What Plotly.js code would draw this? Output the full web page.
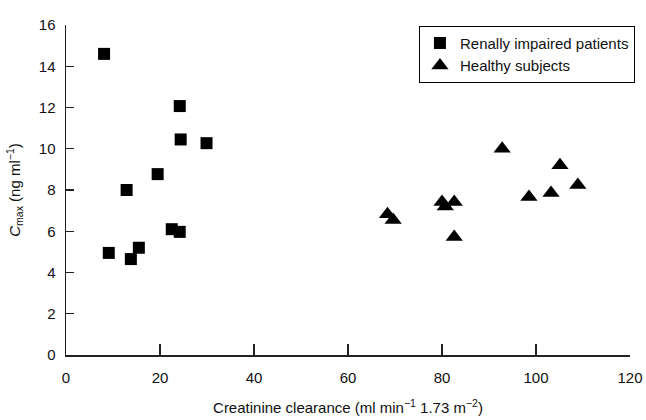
<!DOCTYPE html>
<html><head><meta charset="utf-8">
<script src="https://cdn.plot.ly/plotly-3.0.1.min.js"></script>
<style>body{margin:0;background:#fff}#c{width:646px;height:420px}</style>
</head><body><div id="c"></div>
<script>
const renalX = [8.1, 9.1, 12.9, 13.8, 15.5, 19.5, 22.5, 24.2, 24.2, 24.4, 29.9];
const renalY = [14.6, 4.95, 8.0, 4.65, 5.2, 8.77, 6.1, 5.97, 12.07, 10.45, 10.27];
const healthyX = [92.8, 105.1, 108.9, 103.2, 98.5, 82.6, 80.0, 80.7, 68.4, 69.6, 82.6];
const healthyY = [10.0, 9.2, 8.24, 7.85, 7.66, 7.42, 7.42, 7.2, 6.83, 6.54, 5.72];
const xTicks = [0, 20, 40, 60, 80, 100, 120];
const yTicks = [0, 2, 4, 6, 8, 10, 12, 14, 16];

const font = {family: 'Liberation Sans, Arial, sans-serif', color: '#111', size: 15};
const data = [
  {x: renalX, y: renalY, mode: 'markers', type: 'scatter', name: 'Renally impaired patients',
   marker: {symbol: 'square', size: 12, color: '#000'}},
  {x: healthyX, y: healthyY, mode: 'markers', type: 'scatter', name: 'Healthy subjects',
   marker: {symbol: 'triangle-up', size: 15, color: '#000'}}
];
const layout = {
  width: 646, height: 420,
  margin: {l: 66, r: 15, t: 25, b: 65},
  paper_bgcolor: '#fff', plot_bgcolor: '#fff',
  font: font,
  showlegend: true,
  legend: {x: 1.007, y: 0.998, xanchor: 'right', yanchor: 'top', bordercolor: '#000', borderwidth: 1,
    bgcolor: '#fff', font: {family: font.family, size: 15, color: '#111'}, tracegroupgap: 0, itemwidth: 30},
  xaxis: {range: [0, 120], tickvals: xTicks, ticktext: xTicks.map(String), ticks: 'inside', ticklen: 11,
    tickwidth: 1.2, tickcolor: '#222', showline: true, linecolor: '#222', linewidth: 1.5,
    showgrid: false, zeroline: false, ticklabelstandoff: 8,
    title: {text: 'Creatinine clearance (ml min<sup>−1</sup> 1.73 m<sup>−2</sup>)', standoff: 18,
      font: {family: font.family, size: 15, color: '#111'}}},
  yaxis: {range: [0, 16], tickvals: yTicks, ticktext: yTicks.map(String), ticks: 'inside', ticklen: 8,
    tickwidth: 1.2, tickcolor: '#222', showline: true, linecolor: '#222', linewidth: 1.5,
    showgrid: false, zeroline: false, ticklabelstandoff: 6,
    title: {text: '<i>C</i><sub>max</sub> (ng ml<sup>−1</sup>)', standoff: 14,
      font: {family: font.family, size: 15, color: '#111'}}}
};
Plotly.newPlot('c', data, layout, {staticPlot: true});
</script></body></html>
